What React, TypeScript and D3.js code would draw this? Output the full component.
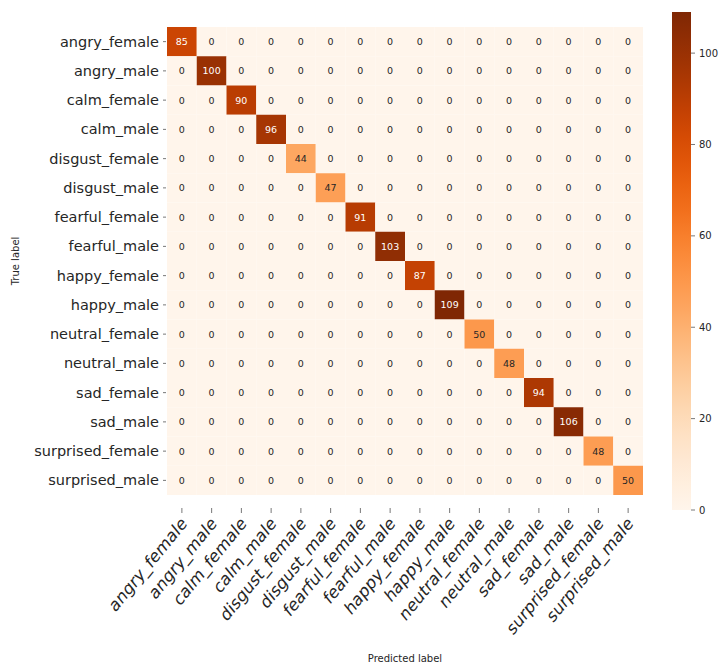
import React from "react";
import * as d3 from "d3";

// Emotion classes (rows = true label, columns = predicted label)
const labels: string[] = [
  "angry_female", "angry_male", "calm_female", "calm_male",
  "disgust_female", "disgust_male", "fearful_female", "fearful_male",
  "happy_female", "happy_male", "neutral_female", "neutral_male",
  "sad_female", "sad_male", "surprised_female", "surprised_male",
];

// Correct predictions per class (all off-diagonal counts are 0)
const diagonalCounts: number[] = [85, 100, 90, 96, 44, 47, 91, 103, 87, 109, 50, 48, 94, 106, 48, 50];

const colorbarTicks: number[] = [0, 20, 40, 60, 80, 100];

const FONT = "'DejaVu Sans', sans-serif";

export default function App() {
  const W = 728, H = 669;
  const left = 167, right = 643, top = 27, bottom = 495;

  const matrix: number[][] = labels.map((_, i) => labels.map((__, j) => (i === j ? diagonalCounts[i] : 0)));
  const vmax = d3.max(diagonalCounts) as number;

  const x = d3.scaleBand<string>().domain(labels).range([left, right]);
  const y = d3.scaleBand<string>().domain(labels).range([top, bottom]);
  const color = d3.scaleSequential(d3.interpolateOranges).domain([0, vmax]);

  // Colorbar geometry
  const cbX = 672, cbW = 19, cbTop = 12, cbBottom = 510;
  const cbScale = d3.scaleLinear().domain([0, vmax]).range([cbBottom, cbTop]);
  const stops = d3.range(0, 1.0001, 0.05);

  const textColor = (v: number) => {
    const c = d3.rgb(color(v));
    const lin = (u: number) => {
      const s = u / 255;
      return s <= 0.03928 ? s / 12.92 : Math.pow((s + 0.055) / 1.055, 2.4);
    };
    const lum = 0.2126 * lin(c.r) + 0.7152 * lin(c.g) + 0.0722 * lin(c.b);
    return lum > 0.408 ? "#262626" : "#ffffff";
  };

  const xTickY = 508;

  return (
    <svg width={W} height={H} style={{ position: "absolute", left: 0, top: 0, background: "#fff" }} fontFamily={FONT}>
      <defs>
        <linearGradient id="cbGrad" x1="0" y1="1" x2="0" y2="0">
          {stops.map((t) => (
            <stop key={t} offset={`${t * 100}%`} stopColor={color(t * vmax)} />
          ))}
        </linearGradient>
      </defs>

      {/* heatmap cells */}
      {matrix.map((row, i) =>
        row.map((v, j) => (
          <g key={`${i}-${j}`}>
            <rect
              x={x(labels[j])}
              y={y(labels[i])}
              width={x.bandwidth()}
              height={y.bandwidth()}
              fill={color(v)}
            />
            <text
              x={(x(labels[j]) as number) + x.bandwidth() / 2}
              y={(y(labels[i]) as number) + y.bandwidth() / 2}
              textAnchor="middle"
              dominantBaseline="central"
              fontSize={9.5}
              fill={textColor(v)}
            >
              {v}
            </text>
          </g>
        ))
      )}

      {/* y axis ticks and labels */}
      {labels.map((l) => {
        const cy = (y(l) as number) + y.bandwidth() / 2;
        return (
          <g key={`y-${l}`}>
            <line x1={left - 4} x2={left - 1} y1={cy} y2={cy} stroke="#555" strokeWidth={0.8} />
            <text x={left - 8} y={cy} textAnchor="end" dominantBaseline="central" fontSize={14.5} fill="#262626">
              {l}
            </text>
          </g>
        );
      })}

      {/* x axis ticks and labels (stretched vertically, steep diagonal) */}
      {labels.map((l) => {
        const cx = (x(l) as number) + x.bandwidth() / 2;
        return (
          <g key={`x-${l}`}>
            <line x1={cx} x2={cx} y1={xTickY} y2={xTickY + 5} stroke="#555" strokeWidth={0.8} />
            <text
              transform={`translate(${cx + 2},${xTickY + 12}) scale(1,1.22) rotate(-45)`}
              textAnchor="end"
              dominantBaseline="central"
              fontSize={15}
              fill="#262626"
            >
              {l}
            </text>
          </g>
        );
      })}

      {/* axis titles */}
      <text x={(left + right) / 2} y={662} textAnchor="middle" fontSize={10} fill="#262626">
        Predicted label
      </text>
      <text transform={`translate(19,${(top + bottom) / 2}) rotate(-90)`} textAnchor="middle" fontSize={10} fill="#262626">
        True label
      </text>

      {/* colorbar */}
      <rect x={cbX} y={cbTop} width={cbW} height={cbBottom - cbTop} fill="url(#cbGrad)" />
      {colorbarTicks.map((t) => (
        <g key={`cb-${t}`}>
          <line x1={cbX + cbW} x2={cbX + cbW + 4} y1={cbScale(t)} y2={cbScale(t)} stroke="#555" strokeWidth={0.8} />
          <text x={cbX + cbW + 8} y={cbScale(t)} dominantBaseline="central" fontSize={10} fill="#262626">
            {t}
          </text>
        </g>
      ))}
    </svg>
  );
}
